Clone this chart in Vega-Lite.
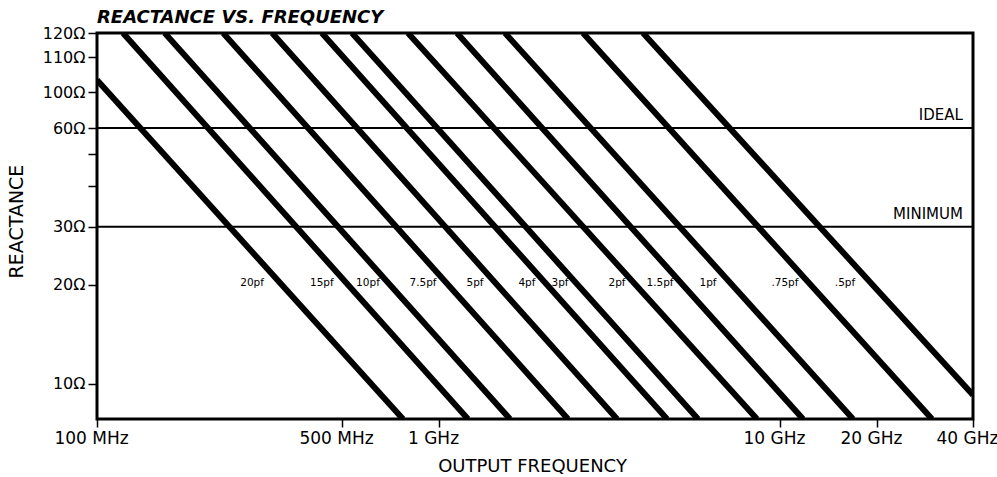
{
  "$schema": "https://vega.github.io/schema/vega-lite/v6.json",
  "width": 876,
  "height": 386,
  "autosize": "none",
  "padding": {"left": 97, "top": 33, "right": 24, "bottom": 58},
  "background": "white",
  "title": {"text": "REACTANCE VS. FREQUENCY", "anchor": "start", "frame": "group", "font": "DejaVu Sans", "fontSize": 18, "fontWeight": "bold", "fontStyle": "italic", "color": "black", "offset": -2},
  "config": {
    "view": {"stroke": "black", "strokeWidth": 3},
    "axis": {"grid": false, "domain": false, "tickColor": "black", "tickWidth": 1.5, "labelColor": "black", "titleColor": "black", "labelFont": "DejaVu Sans", "titleFont": "DejaVu Sans", "titleFontWeight": "normal"}
  },
  "datasets": {
    "lines": [
      {"cap": "20pf", "f": 100, "r": 103.3}, {"cap": "20pf", "f": 773, "r": 7.8},
      {"cap": "15pf", "f": 118.6, "r": 120}, {"cap": "15pf", "f": 1216, "r": 7.8},
      {"cap": "10pf", "f": 156, "r": 120}, {"cap": "10pf", "f": 1615, "r": 7.8},
      {"cap": "7.5pf", "f": 229, "r": 120}, {"cap": "7.5pf", "f": 2389, "r": 7.8},
      {"cap": "5pf", "f": 316, "r": 120}, {"cap": "5pf", "f": 3327, "r": 7.8},
      {"cap": "4pf", "f": 438, "r": 120}, {"cap": "4pf", "f": 4664, "r": 7.8},
      {"cap": "3pf", "f": 537, "r": 120}, {"cap": "3pf", "f": 5748, "r": 7.8},
      {"cap": "2pf", "f": 801, "r": 120}, {"cap": "2pf", "f": 8560, "r": 7.8},
      {"cap": "1.5pf", "f": 1129, "r": 120}, {"cap": "1.5pf", "f": 11786, "r": 7.8},
      {"cap": "1pf", "f": 1561, "r": 120}, {"cap": "1pf", "f": 16850, "r": 7.8},
      {"cap": ".75pf", "f": 2644, "r": 120}, {"cap": ".75pf", "f": 29750, "r": 7.8},
      {"cap": ".5pf", "f": 3965, "r": 120}, {"cap": ".5pf", "f": 40000, "r": 9.23}
    ],
    "caps": [
      {"cap": "20pf", "f": 277, "r": 20.2},
      {"cap": "15pf", "f": 438, "r": 20.2},
      {"cap": "10pf", "f": 602, "r": 20.2},
      {"cap": "7.5pf", "f": 892, "r": 20.2},
      {"cap": "5pf", "f": 1275, "r": 20.2},
      {"cap": "4pf", "f": 1811, "r": 20.2},
      {"cap": "3pf", "f": 2264, "r": 20.2},
      {"cap": "2pf", "f": 3327, "r": 20.2},
      {"cap": "1.5pf", "f": 4447, "r": 20.2},
      {"cap": "1pf", "f": 6150, "r": 20.2},
      {"cap": ".75pf", "f": 10360, "r": 20.2},
      {"cap": ".5pf", "f": 15910, "r": 20.2}
    ],
    "levels": [
      {"level": "IDEAL", "f": 37200, "r": 60},
      {"level": "MINIMUM", "f": 37200, "r": 30}
    ]
  },
  "layer": [
    {
      "data": {"name": "lines"},
      "mark": {"type": "line", "color": "black", "strokeWidth": 6, "clip": true, "strokeCap": "butt"},
      "encoding": {
        "x": {"field": "f", "type": "quantitative", "title": "OUTPUT FREQUENCY",
          "scale": {"type": "log", "domain": [100, 500, 1000, 10000, 20000, 40000], "range": [0, 245, 342, 683, 780, 876], "nice": false},
          "axis": {"values": [100, 500, 1000, 10000, 20000, 40000], "labelExpr": "datum.value >= 1000 ? (datum.value / 1000) + ' GHz' : datum.value + ' MHz'", "tickSize": 8, "labelPadding": 3, "labelFontSize": 17, "labelOffset": -6, "labelFlush": false, "labelOverlap": false, "titleFontSize": 18, "titleX": 435, "titleY": 47, "titleBaseline": "middle", "titleAlign": "center"}},
        "y": {"field": "r", "type": "quantitative", "title": "REACTANCE",
          "scale": {"type": "log", "domain": [7.8, 60, 100, 110, 120], "range": [386, 95, 59, 24, 0], "nice": false},
          "axis": {"values": [10, 20, 30, 40, 50, 60, 100, 110, 120], "labelExpr": "datum.value == 40 || datum.value == 50 ? '' : datum.value + 'Ω'", "tickSize": 9, "labelPadding": 3, "labelFontSize": 16, "labelFlush": false, "labelOverlap": false, "titleFontSize": 19, "titleAngle": -90, "titleX": -81, "titleY": 188, "titleBaseline": "middle", "titleAlign": "center"}},
        "detail": {"field": "cap"}
      }
    },
    {
      "data": {"name": "levels"},
      "mark": {"type": "rule", "color": "black", "strokeWidth": 2},
      "encoding": {
        "y": {"field": "r", "type": "quantitative", "title": "REACTANCE"}
      }
    },
    {
      "data": {"name": "levels"},
      "mark": {"type": "text", "align": "right", "baseline": "alphabetic", "dy": -8, "font": "DejaVu Sans", "fontSize": 15, "color": "black"},
      "encoding": {
        "x": {"field": "f", "type": "quantitative", "title": "OUTPUT FREQUENCY"},
        "y": {"field": "r", "type": "quantitative", "title": "REACTANCE"},
        "text": {"field": "level"}
      }
    },
    {
      "data": {"name": "caps"},
      "mark": {"type": "text", "align": "center", "baseline": "middle", "font": "DejaVu Sans", "fontSize": 10.5, "color": "black"},
      "encoding": {
        "x": {"field": "f", "type": "quantitative", "title": "OUTPUT FREQUENCY"},
        "y": {"field": "r", "type": "quantitative", "title": "REACTANCE"},
        "text": {"field": "cap"}
      }
    }
  ]
}
